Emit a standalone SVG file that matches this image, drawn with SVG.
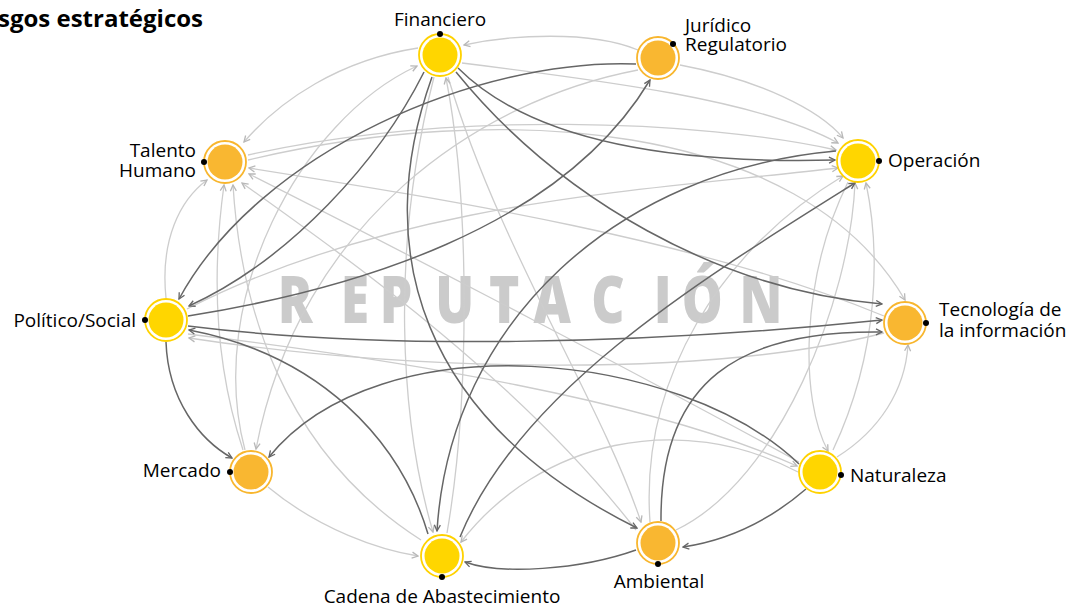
<svg xmlns="http://www.w3.org/2000/svg" width="1069" height="608" viewBox="0 0 1069 608">
<defs>
<style>
.lbl{font-family:"Open Sans","Liberation Sans",sans-serif;font-size:19px;fill:#000}
.d{fill:none;stroke:#666;stroke-width:1.5;marker-end:url(#ad)}
.l{fill:none;stroke:#cdcdcd;stroke-width:1.3;marker-end:url(#al)}
.ry{fill:#fff;stroke:#FFD200;stroke-width:1.8}
.ro{fill:#fff;stroke:#F8B62E;stroke-width:1.8}
.fy{fill:#FFD600}
.fo{fill:#F9B731}
.dot{fill:#000}
</style>
<marker id="ad" viewBox="0 0 8 8" refX="7" refY="4" markerWidth="8" markerHeight="8" markerUnits="userSpaceOnUse" orient="auto"><path d="M1,1 L7,4 L1,7" fill="none" stroke="#666" stroke-width="1.3"/></marker>
<marker id="al" viewBox="0 0 8 8" refX="7" refY="4" markerWidth="8" markerHeight="8" markerUnits="userSpaceOnUse" orient="auto"><path d="M1,1 L7,4 L1,7" fill="none" stroke="#b8b8b8" stroke-width="1.3"/></marker>
</defs>
<rect width="1069" height="608" fill="#fff"/>
<text x="-2" y="27" style="font-family:'Open Sans','Liberation Sans',sans-serif;font-size:24px;font-weight:700;fill:#000">sgos estratégicos</text>
<g id="watermark" transform="scale(0.78 1)">
<text y="323" x="356 437 487 558 627 684 758 838 874 948" style="font-family:'Open Sans','Liberation Sans',sans-serif;font-size:66px;font-weight:800;fill:#cbcbcb">REPUTACIÓN</text>
</g>
<g id="connectors">
<path class="l" d="M638,50 C590,30 510,35 464,45"/>
<path class="l" d="M418,48 C340,60 280,100 244,142"/>
<path class="l" d="M245,450 C205,300 300,120 417,66"/>
<path class="l" d="M638,70 C480,100 300,220 256,449"/>
<path class="l" d="M462,63 C600,80 760,100 838,143"/>
<path class="l" d="M680,65 C760,80 820,110 843,138"/>
<path class="l" d="M248,155 C450,110 700,120 836,150"/>
<path class="l" d="M248,160 C500,100 800,120 905,300"/>
<path class="l" d="M884,316 C700,240 450,200 249,168"/>
<path class="l" d="M187,309 C400,200 650,190 838,168"/>
<path class="l" d="M166,298 C160,240 180,200 207,180"/>
<path class="l" d="M243,450 C210,350 215,250 224,185"/>
<path class="l" d="M421,540 C280,450 240,300 233,185"/>
<path class="l" d="M268,487 C320,530 380,550 418,556"/>
<path class="l" d="M799,462 C650,380 420,260 249,174"/>
<path class="l" d="M188,334 C400,360 650,400 797,466"/>
<path class="l" d="M884,333 C700,380 400,370 189,338"/>
<path class="l" d="M448,77 C500,250 600,400 641,522"/>
<path class="l" d="M434,77 C390,250 400,420 433,532"/>
<path class="l" d="M447,533 C470,400 470,200 446,78"/>
<path class="l" d="M798,472 C680,410 540,440 461,542"/>
<path class="l" d="M650,522 C640,380 720,250 843,176"/>
<path class="l" d="M676,530 C780,480 850,300 855,183"/>
<path class="l" d="M837,457 C880,430 905,390 908,345"/>
<path class="l" d="M848,182 C800,280 800,400 828,451"/>
<path class="l" d="M833,450 C880,350 880,250 866,183"/>
<path class="l" d="M636,530 C520,380 350,260 242,183"/>
<path class="d" d="M636,64 C480,58 260,150 179,299"/>
<path class="d" d="M424,72 C380,160 290,260 189,306"/>
<path class="d" d="M458,68 C520,130 640,165 835,160"/>
<path class="d" d="M456,72 C560,200 720,290 882,304"/>
<path class="d" d="M432,77 C370,250 420,420 637,528"/>
<path class="d" d="M188,316 C350,290 560,230 650,80"/>
<path class="d" d="M188,326 C380,350 640,345 882,320"/>
<path class="d" d="M166,342 C168,400 200,440 232,458"/>
<path class="d" d="M428,534 C400,440 320,355 189,330"/>
<path class="d" d="M836,151 C620,170 450,320 437,531"/>
<path class="d" d="M460,537 C520,390 700,280 855,183"/>
<path class="d" d="M799,464 C680,350 380,320 269,457"/>
<path class="d" d="M661,521 C660,380 740,330 882,332"/>
<path class="d" d="M636,550 C580,570 500,575 465,562"/>
<path class="d" d="M806,489 C770,520 730,540 683,547"/>
</g>
<g id="n-financiero"><circle class="ry" cx="440" cy="55" r="21"/><circle class="fy" cx="440" cy="55" r="17.5"/><circle class="dot" cx="440" cy="34" r="3"/><text class="lbl" x="440" y="26" text-anchor="middle">Financiero</text></g>
<g id="n-juridico"><circle class="ro" cx="658" cy="58" r="21"/><circle class="fo" cx="658" cy="58" r="17.5"/><circle class="dot" cx="673" cy="44" r="3"/><text class="lbl" x="685" y="32">Jurídico</text><text class="lbl" x="685" y="51">Regulatorio</text></g>
<g id="n-operacion"><circle class="ry" cx="858" cy="161" r="21"/><circle class="fy" cx="858" cy="161" r="17.5"/><circle class="dot" cx="879" cy="161" r="3"/><text class="lbl" x="888" y="167">Operación</text></g>
<g id="n-tecnologia"><circle class="ro" cx="905" cy="323" r="21"/><circle class="fo" cx="905" cy="323" r="17.5"/><circle class="dot" cx="926" cy="323" r="3"/><text class="lbl" x="939" y="316">Tecnología de</text><text class="lbl" x="939" y="337">la información</text></g>
<g id="n-naturaleza"><circle class="ry" cx="820" cy="472" r="21"/><circle class="fy" cx="820" cy="472" r="17.5"/><circle class="dot" cx="841" cy="475" r="3"/><text class="lbl" x="850" y="482">Naturaleza</text></g>
<g id="n-ambiental"><circle class="ro" cx="658" cy="543" r="21"/><circle class="fo" cx="658" cy="543" r="17.5"/><circle class="dot" cx="658" cy="564" r="3"/><text class="lbl" x="659" y="588" text-anchor="middle">Ambiental</text></g>
<g id="n-cadena"><circle class="ry" cx="442" cy="556" r="21"/><circle class="fy" cx="442" cy="556" r="17.5"/><circle class="dot" cx="442" cy="577" r="3"/><text class="lbl" x="442" y="603" text-anchor="middle">Cadena de Abastecimiento</text></g>
<g id="n-mercado"><circle class="ro" cx="251" cy="472" r="21"/><circle class="fo" cx="251" cy="472" r="17.5"/><circle class="dot" cx="230" cy="472" r="3"/><text class="lbl" x="221" y="477" text-anchor="end">Mercado</text></g>
<g id="n-politico"><circle class="ry" cx="166" cy="320" r="21"/><circle class="fy" cx="166" cy="320" r="17.5"/><circle class="dot" cx="145" cy="320" r="3"/><text class="lbl" x="136" y="327" text-anchor="end">Político/Social</text></g>
<g id="n-talento"><circle class="ro" cx="225" cy="162" r="21"/><circle class="fo" cx="225" cy="162" r="17.5"/><circle class="dot" cx="204" cy="162" r="3"/><text class="lbl" x="196" y="157" text-anchor="end">Talento</text><text class="lbl" x="196" y="177" text-anchor="end">Humano</text></g>
</svg>
